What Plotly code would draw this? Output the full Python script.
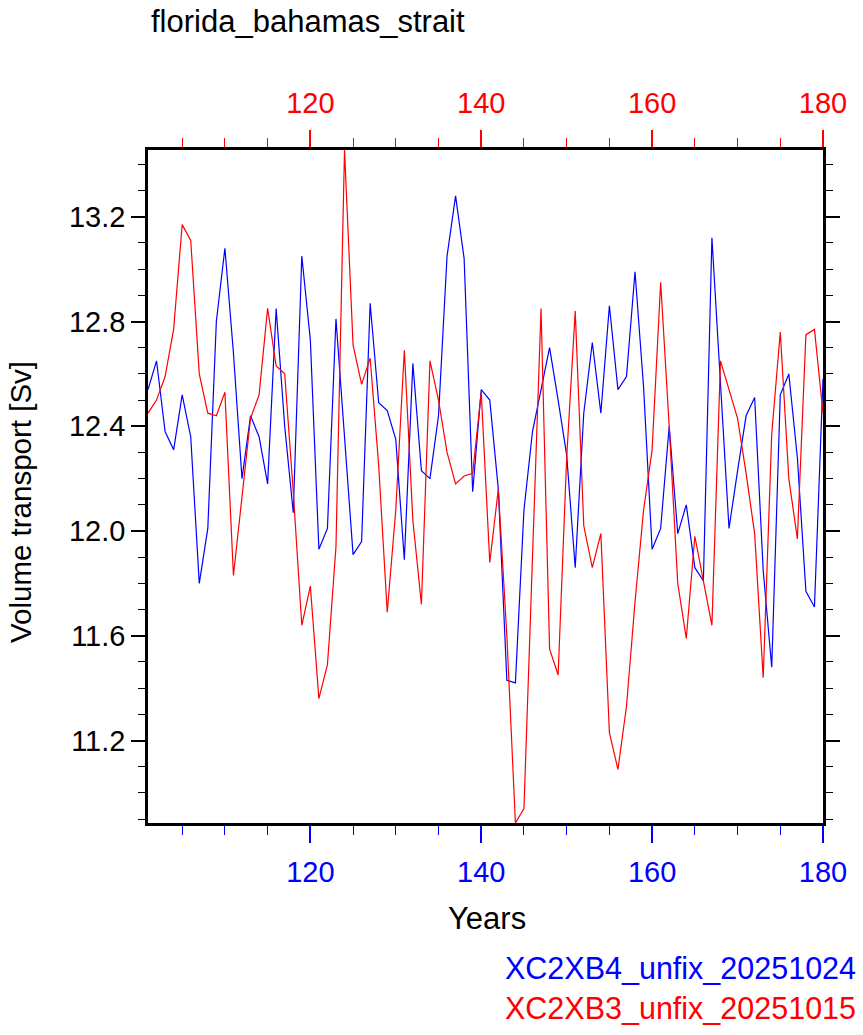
import plotly.graph_objects as go

years = list(range(101, 181))

xc2xb4 = [12.54, 12.65, 12.38, 12.31, 12.52, 12.36, 11.80, 12.01, 12.80, 13.08,
          12.68, 12.20, 12.44, 12.36, 12.18, 12.85, 12.40, 12.07, 13.05, 12.73,
          11.93, 12.01, 12.81, 12.35, 11.91, 11.96, 12.87, 12.49, 12.46, 12.35,
          11.89, 12.64, 12.23, 12.20, 12.44, 13.05, 13.28, 13.04, 12.15, 12.54,
          12.50, 12.16, 11.43, 11.42, 12.08, 12.38, 12.54, 12.70, 12.50, 12.29,
          11.86, 12.45, 12.72, 12.45, 12.86, 12.54, 12.59, 12.99, 12.55, 11.93,
          12.01, 12.40, 11.99, 12.10, 11.86, 11.81, 13.12, 12.55, 12.01, 12.23,
          12.44, 12.51, 11.85, 11.48, 12.52, 12.60, 12.28, 11.77, 11.71, 12.58]

xc2xb3 = [12.45, 12.50, 12.59, 12.77, 13.17, 13.11, 12.60, 12.45, 12.44, 12.53,
          11.83, 12.13, 12.43, 12.52, 12.85, 12.63, 12.60, 12.15, 11.64, 11.79,
          11.36, 11.49, 11.94, 13.455, 12.71, 12.56, 12.66, 12.25, 11.69, 12.08,
          12.69, 12.04, 11.72, 12.65, 12.50, 12.30, 12.18, 12.21, 12.22, 12.53,
          11.88, 12.16, 11.60, 10.885, 10.94, 11.90, 12.85, 11.55, 11.45, 12.28,
          12.84, 12.02, 11.86, 11.99, 11.23, 11.09, 11.33, 11.73, 12.08, 12.31,
          12.95, 12.40, 11.80, 11.59, 11.98, 11.81, 11.64, 12.65, 12.54, 12.43,
          12.22, 11.99, 11.44, 12.37, 12.76, 12.20, 11.97, 12.75, 12.77, 12.45]

name_b = "XC2XB4_unfix_20251024"
name_r = "XC2XB3_unfix_20251015"
title = "florida_bahamas_strait"

FONT = "Liberation Sans, Arial, Helvetica, sans-serif"

fig = go.Figure()
fig.add_trace(go.Scatter(x=years, y=xc2xb4, mode="lines", name=name_b,
                         line=dict(color="#0000FF", width=1.2), xaxis="x", yaxis="y"))
fig.add_trace(go.Scatter(x=years, y=xc2xb3, mode="lines", name=name_r,
                         line=dict(color="#FF0000", width=1.2), xaxis="x2", yaxis="y"))

ymin = min(min(xc2xb4), min(xc2xb3))
ymax = max(max(xc2xb4), max(xc2xb3))

L, R, T, B = 148, 40, 150, 212
W, H = 863, 1035
pw, ph = W - L - R, H - T - B

fig.update_layout(
    width=W, height=H,
    margin=dict(l=L, r=R, t=T, b=B, pad=0),
    paper_bgcolor="white", plot_bgcolor="white",
    showlegend=False,
    font=dict(family=FONT, size=26, color="black"),
    xaxis=dict(range=[101, 180], side="bottom", tickmode="linear", tick0=0, dtick=20,
               ticks="outside", ticklen=17, tickwidth=1.5, tickcolor="#0000FF",
               minor=dict(dtick=5, tick0=0, ticks="outside", ticklen=9, tickwidth=1,
                          tickcolor="#0000FF", showgrid=False),
               tickfont=dict(color="#0000FF", size=29, family=FONT),
               ticklabelstandoff=4,
               showline=True, linecolor="black", linewidth=2.5, mirror=False,
               showgrid=False, zeroline=False),
    xaxis2=dict(range=[101, 180], side="top", overlaying="x", anchor="y",
                tickmode="linear", tick0=0, dtick=20,
                ticks="outside", ticklen=17, tickwidth=1.5, tickcolor="#FF0000",
                minor=dict(dtick=5, tick0=0, ticks="outside", ticklen=9, tickwidth=1,
                           tickcolor="#FF0000", showgrid=False),
                tickfont=dict(color="#FF0000", size=29, family=FONT),
                ticklabelstandoff=6,
                showline=True, linecolor="black", linewidth=2.5, mirror=False,
                showgrid=False, zeroline=False),
    yaxis=dict(range=[ymin, ymax], tickmode="linear", tick0=0, dtick=0.4,
               tickformat=".1f", ticks="outside", ticklen=14, tickwidth=1.5,
               tickcolor="black",
               minor=dict(dtick=0.1, tick0=0, ticks="outside", ticklen=7, tickwidth=1,
                          tickcolor="black", showgrid=False),
               tickfont=dict(color="black", size=29, family=FONT),
               showline=True, linecolor="black", linewidth=2.5, mirror="ticks",
               showgrid=False, zeroline=False),
)

def px_x(p):
    return (p - L) / pw

def px_y(p):
    return 1 - (p - T) / ph

annotations = [
    dict(text=title, x=px_x(149), y=px_y(21), xanchor="left", yanchor="middle",
         font=dict(size=31, color="black", family=FONT)),
    dict(text="Years", x=px_x(487), y=px_y(918), xanchor="center", yanchor="middle",
         font=dict(size=31, color="black", family=FONT)),
    dict(text="Volume transport [Sv]", x=px_x(20), y=px_y(502), textangle=-90,
         xanchor="center", yanchor="middle",
         font=dict(size=29.5, color="black", family=FONT)),
    dict(text=name_b, x=px_x(858), y=px_y(968), xanchor="right", yanchor="middle",
         font=dict(size=30.5, color="#0000FF", family=FONT)),
    dict(text=name_r, x=px_x(858), y=px_y(1008), xanchor="right", yanchor="middle",
         font=dict(size=30.5, color="#FF0000", family=FONT)),
]
for a in annotations:
    a.update(xref="paper", yref="paper", showarrow=False)
fig.update_layout(annotations=annotations)

fig.write_html("out.html")
